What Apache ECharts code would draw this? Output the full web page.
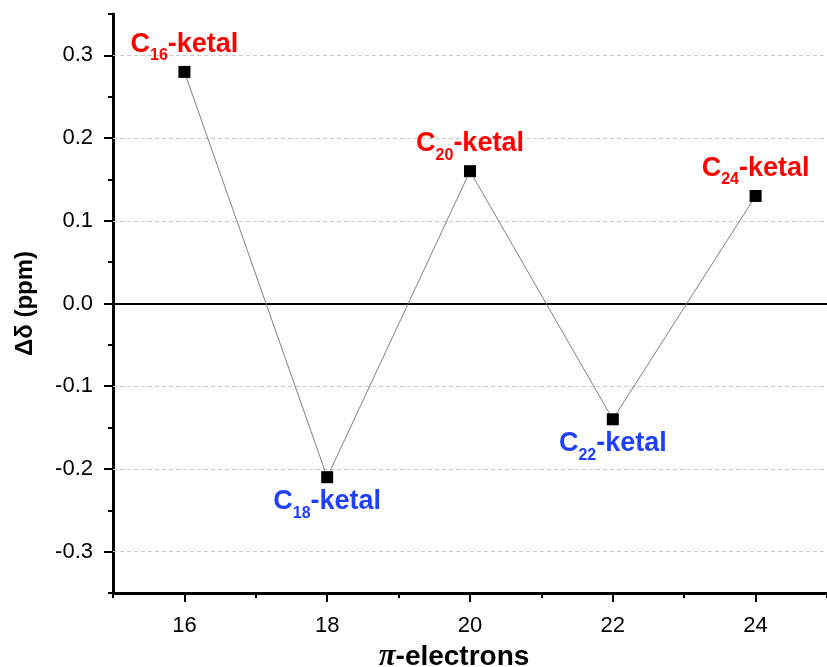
<!DOCTYPE html>
<html>
<head>
<meta charset="utf-8">
<script src="https://cdn.jsdelivr.net/npm/echarts@6/dist/echarts.min.js"></script>
<style>html,body{margin:0;padding:0;background:#fff;}#c{width:827px;height:667px;}</style>
</head>
<body>
<div id="c"></div>
<script>
const electrons = [16, 18, 20, 22, 24];
const delta = [0.28, -0.21, 0.16, -0.14, 0.13];
const subscripts = ['16', '18', '20', '22', '24'];
const yMajorTicks = [-0.3, -0.2, -0.1, 0, 0.1, 0.2, 0.3];
const yMinorTicks = [-0.35, -0.25, -0.15, -0.05, 0.05, 0.15, 0.25, 0.35];
const xMajorTicks = [16, 18, 20, 22, 24];
const xMinorTicks = [15, 17, 19, 21, 23, 25];
const posColor = '#ff0000';
const negColor = '#1f3fff';

const FONT = 'Liberation Sans, Arial, sans-serif';

const chart = echarts.init(document.getElementById('c'));

const pointData = electrons.map((x, i) => {
  const v = delta[i];
  const col = v >= 0 ? posColor : negColor;
  return {
    value: [x, v],
    label: {
      show: true,
      position: v >= 0 ? 'top' : 'bottom',
      distance: v >= 0 ? 2 : 5,
      formatter: '{c|C}{s|' + subscripts[i] + '}{c|-ketal}',
      rich: {
        c: { fontFamily: FONT, fontWeight: 'bold', fontSize: 27, lineHeight: 30, verticalAlign: 'top', color: col },
        s: { fontFamily: FONT, fontWeight: 'bold', fontSize: 16, lineHeight: 33, verticalAlign: 'bottom', color: col }
      }
    }
  };
});

const gridLines = yMajorTicks.map(v => ({
  yAxis: v,
  lineStyle: v === 0
    ? { color: '#000', width: 2, type: 'solid' }
    : { color: '#c8c8c8', width: 1, type: [4, 3] }
}));

const axisLineStyle = { color: '#000', width: 3 };

chart.setOption({
  animation: false,
  grid: { left: 113, right: 0, top: 14, bottom: 74, containLabel: false, outerBoundsMode: 'none' },
  xAxis: [
    {
      type: 'value', min: 15, max: 25,
      position: 'bottom',
      name: '{p|π}-electrons',
      nameLocation: 'middle',
      nameGap: 38,
      nameTextStyle: {
        fontFamily: FONT, fontWeight: 'bold', fontSize: 28, color: '#000',
        padding: [0, 32, 0, 0],
        rich: { p: { fontFamily: 'Liberation Serif, Times New Roman, serif', fontStyle: 'italic', fontWeight: 'bold', fontSize: 31, color: '#000' } }
      },
      axisLine: { show: true, onZero: false, lineStyle: axisLineStyle },
      axisTick: { show: true, inside: false, length: 9, lineStyle: { color: '#000', width: 2 }, customValues: xMajorTicks },
      axisLabel: { show: true, margin: 22, fontFamily: FONT, fontSize: 22, color: '#000', customValues: xMajorTicks },
      splitLine: { show: false }
    },
    {
      type: 'value', min: 15, max: 25,
      position: 'bottom',
      axisLine: { show: false, onZero: false },
      axisTick: { show: true, inside: false, length: 5, lineStyle: { color: '#000', width: 2 }, customValues: xMinorTicks },
      axisLabel: { show: false },
      splitLine: { show: false }
    }
  ],
  yAxis: [
    {
      type: 'value', min: -0.35, max: 0.35,
      position: 'left',
      name: 'Δδ (ppm)',
      nameLocation: 'middle',
      nameGap: 76,
      nameTextStyle: { fontFamily: FONT, fontWeight: 'bold', fontSize: 24, color: '#000' },
      axisLine: { show: true, onZero: false, lineStyle: axisLineStyle },
      axisTick: { show: true, inside: false, length: 9, lineStyle: { color: '#000', width: 2 }, customValues: yMajorTicks },
      axisLabel: {
        show: true, margin: 20, fontFamily: FONT, fontSize: 22, color: '#000',
        customValues: yMajorTicks,
        formatter: v => v.toFixed(1)
      },
      splitLine: { show: false }
    },
    {
      type: 'value', min: -0.35, max: 0.35,
      position: 'left',
      axisLine: { show: false, onZero: false },
      axisTick: { show: true, inside: false, length: 5, lineStyle: { color: '#000', width: 2 }, customValues: yMinorTicks },
      axisLabel: { show: false },
      splitLine: { show: false }
    }
  ],
  series: [
    {
      type: 'line',
      xAxisIndex: 0, yAxisIndex: 0,
      data: pointData,
      symbol: 'rect',
      symbolSize: 12,
      itemStyle: { color: '#000' },
      lineStyle: { color: '#808080', width: 1 },
      z: 5,
      markLine: {
        silent: true,
        symbol: 'none',
        label: { show: false },
        data: gridLines,
        z: 1
      }
    }
  ]
});
</script>
</body>
</html>
